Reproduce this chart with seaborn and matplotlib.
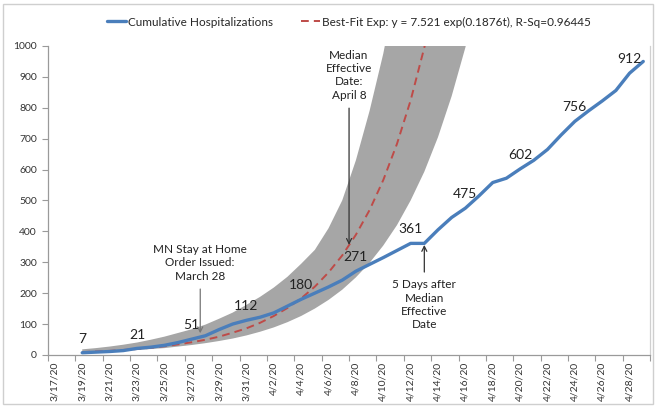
import pandas as pd
import matplotlib
matplotlib.use("Agg")
import matplotlib.pyplot as plt
import matplotlib.dates as mdates
from matplotlib.patches import Rectangle
import seaborn as sns
import numpy as np

###############################################################################
# data
###############################################################################
hosp_dates = pd.date_range("2020-03-19", "2020-04-29")
hospitalizations = [7, 9, 11, 14, 21, 25, 31, 40, 51, 62, 82, 100, 112, 122,
                    136, 158, 180, 200, 220, 242, 271, 293, 315, 338, 361, 361,
                    405, 445, 475, 515, 558, 572, 602, 630, 665, 712, 756, 790,
                    822, 856, 912, 950]

fit_dates = pd.date_range("2020-03-19", "2020-04-14")
fit_values = [9, 11, 13, 16, 19, 23, 28, 34, 41, 49, 59, 72, 86, 104, 126, 152,
              183, 221, 267, 322, 389, 469, 566, 683, 824, 995, 1200]

upper_dates = pd.date_range("2020-03-19", "2020-04-11")
upper_band = [18, 22, 27, 33, 40, 49, 59, 71, 83, 98, 117, 137, 162, 188, 218,
              253, 295, 340, 410, 500, 630, 790, 975, 1200]

lower_dates = pd.date_range("2020-03-19", "2020-04-17")
lower_band = [8, 9.5, 11, 13, 16, 19, 22, 27, 32, 38, 45, 53, 63, 75, 89, 106,
              126, 150, 178, 211, 251, 298, 354, 420, 500, 593, 705, 838, 995,
              1180]

label_every = 4          # data labels every 4th day, starting 3/19
tick_dates = pd.date_range("2020-03-17", "2020-04-28", freq="2D")

###############################################################################
# style
###############################################################################
sns.set_theme(style="white")
plt.rcParams['font.family'] = ['Lato', 'DejaVu Sans']

blue = "#4A7EBB"
red = "#BE4B48"
band_gray = "#A6A6A6"
axis_gray = "#9A9A9A"

fig = plt.figure(figsize=(6.56, 4.07), dpi=100)
ax = fig.add_axes([0.0732, 0.128, 0.9178, 0.759])

###############################################################################
# band, fit and data
###############################################################################
band_x = list(mdates.date2num(upper_dates)) + list(mdates.date2num(lower_dates))[::-1]
band_y = upper_band + lower_band[::-1]
ax.fill(band_x, band_y, color=band_gray, lw=0, zorder=1)

sns.lineplot(x=hosp_dates, y=hospitalizations, ax=ax, color=blue, lw=2.4,
             label="Cumulative Hospitalizations", zorder=3)
sns.lineplot(x=fit_dates, y=fit_values, ax=ax, color=red, lw=1.4,
             linestyle=(0, (4, 2.6)), zorder=2,
             label="Best-Fit Exp: y = 7.521 exp(0.1876t), R-Sq=0.96445")

for d, v in list(zip(hosp_dates, hospitalizations))[::label_every]:
    ax.annotate(f"{v}", xy=(d, v), xytext=(0, 10), textcoords="offset points",
                ha="center", va="center", fontsize=10, color="#222222", zorder=5)

###############################################################################
# annotations
###############################################################################
arrow = dict(arrowstyle="->", color="#333333", lw=0.9, shrinkA=3, shrinkB=0,
             mutation_scale=9)
ax.annotate("MN Stay at Home\nOrder Issued:\nMarch 28",
            xy=(pd.Timestamp("2020-03-27 15:00"), 70),
            xytext=(pd.Timestamp("2020-03-27 15:00"), 298),
            ha="center", va="center", fontsize=8.5, linespacing=1.25,
            color="#222222", arrowprops=dict(arrow, color="#777777"), zorder=6)
ax.annotate("Median\nEffective\nDate:\nApril 8",
            xy=(pd.Timestamp("2020-04-07 12:00"), 356),
            xytext=(pd.Timestamp("2020-04-07 12:00"), 905),
            ha="center", va="center", fontsize=8.5, linespacing=1.25,
            color="#222222", arrowprops=arrow, zorder=6)
ax.annotate("5 Days after\nMedian\nEffective\nDate",
            xy=(pd.Timestamp("2020-04-13"), 356),
            xytext=(pd.Timestamp("2020-04-13"), 162),
            ha="center", va="center", fontsize=8.5, linespacing=1.25,
            color="#222222", arrowprops=arrow, zorder=6)

###############################################################################
# axes
###############################################################################
ax.set_ylim(0, 1000)
ax.set_yticks(range(0, 1001, 100))
ax.set_xlim(pd.Timestamp("2020-03-16 12:00"), pd.Timestamp("2020-04-29 12:00"))
ax.set_xticks(tick_dates)
ax.set_xticklabels([f"{d.month}/{d.day}/20" for d in tick_dates], rotation=90)
ax.set_xticks(pd.date_range("2020-03-16 12:00", "2020-04-29 12:00", freq="2D"),
              minor=True)
ax.tick_params(axis="x", which="major", length=0, pad=5, labelsize=7.5,
               colors="#333333")
ax.tick_params(axis="x", which="minor", length=4, width=0.8, color=axis_gray,
               bottom=True, direction="out")
ax.tick_params(axis="y", length=4, width=0.8, color=axis_gray, left=True,
               direction="out", labelsize=7.5, labelcolor="#333333", pad=4)
ax.set_xlabel("")
ax.set_ylabel("")
ax.spines["top"].set_visible(False)
for side in ["left", "bottom"]:
    ax.spines[side].set_color(axis_gray)
    ax.spines[side].set_linewidth(0.9)
ax.spines["right"].set_color("#D0D0D0")
ax.spines["right"].set_linewidth(0.9)

ax.legend(loc="center", bbox_to_anchor=(349 / 656, 1 - 22 / 407),
          bbox_transform=fig.transFigure, ncol=2, frameon=False, fontsize=8.5,
          handlelength=1.6, handletextpad=0.2, columnspacing=2.4)

fig.patches.append(Rectangle((0.004, 0.008), 0.992, 0.982,
                             transform=fig.transFigure, fill=False,
                             edgecolor="#CFCFCF", lw=1))

fig.savefig("out.png", dpi=100)
